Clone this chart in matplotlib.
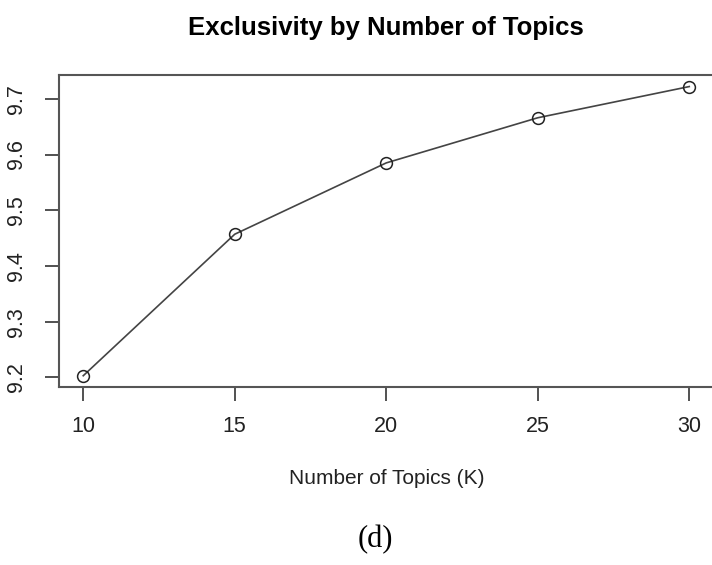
import matplotlib
matplotlib.use('Agg')
import matplotlib.pyplot as plt

plt.rcParams['font.family'] = ['Liberation Sans', 'DejaVu Sans']

topics = [10, 15, 20, 25, 30]
exclusivity = [9.203, 9.457, 9.585, 9.666, 9.722]
y_ticks = [9.2, 9.3, 9.4, 9.5, 9.6, 9.7]

W, H = 712, 565
fig = plt.figure(figsize=(W / 100, H / 100), dpi=100)
# plot box (R base style), right edge runs just past the image
ax = fig.add_axes([59 / W, 1 - 387.3 / H, (713.5 - 59) / W, (387.3 - 75) / H])

ax.plot(topics, exclusivity, color='#444444', lw=1.2,
        marker='o', ms=8.5, mfc='none', mec='#222222', mew=1.1)
ax.margins(x=0.04, y=0.04)  # R pads axis range by 4%

ax.set_xticks(topics)
ax.set_yticks(y_ticks)
ax.set_yticklabels([str(v) for v in y_ticks], rotation=90, va='center')
ax.tick_params(axis='both', length=10, width=1.2, color='#333333',
               labelsize=15.5, labelcolor='#222222')
ax.tick_params(axis='x', pad=11)
ax.tick_params(axis='y', pad=13)
for s in ax.spines.values():
    s.set_color('#555555')
    s.set_linewidth(1.5)

fig.text(386 / W, 1 - 28 / H, 'Exclusivity by Number of Topics',
         ha='center', va='center', fontsize=18.5, fontweight='bold')
fig.text(387 / W, 1 - 478 / H, 'Number of Topics (K)',
         ha='center', va='center', fontsize=15, color='#222222')
fig.text(375 / W, 1 - 540 / H, '(d)', ha='center', va='center',
         fontsize=22, family='Liberation Serif')

fig.savefig('out.png', dpi=100)
